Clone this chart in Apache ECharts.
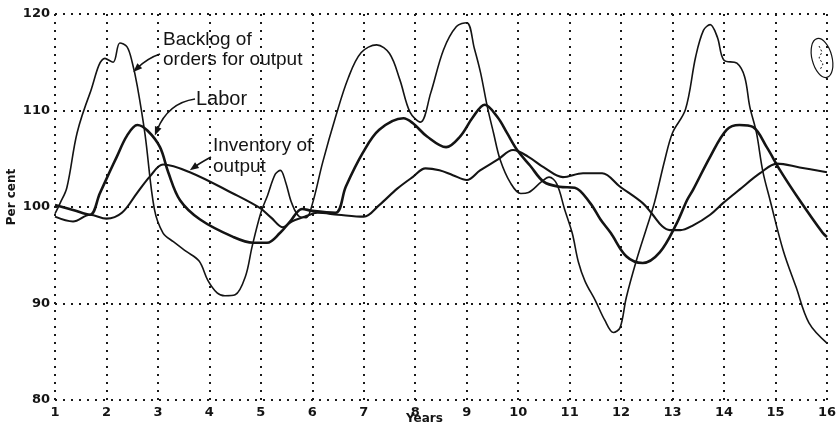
<!DOCTYPE html>
<html>
<head>
<meta charset="utf-8">
<script src="https://cdn.jsdelivr.net/npm/echarts@6/dist/echarts.min.js"></script>
<style>
html,body{margin:0;padding:0;background:#fff;}
#c{width:839px;height:434px;}
</style>
</head>
<body>
<div id="c"></div>
<script>
// Tick labels
var xTicks = [1,2,3,4,5,6,7,8,9,10,11,12,13,14,15,16];
var yTicks = [80,90,100,110,120];

// Backlog of orders for output  [year, per cent]
var backlog = [
  [1,99.3],[1.1,100.4],[1.23,102],[1.43,107.7],[1.68,111.8],[1.97,115.4],[2.13,115],[2.26,117],
  [2.4,116.6],[2.5,115],[2.6,112.5],[2.75,107.5],[2.93,99.8],[3.1,97.3],[3.3,96.4],[3.55,95.4],
  [3.8,94.4],[3.97,92.4],[4.15,91.1],[4.3,90.8],[4.5,90.9],[4.7,92.8],[4.83,95.9],[5.0,99.4],
  [5.13,101.2],[5.28,103.4],[5.38,103.8],[5.48,102.6],[5.6,100.4],[5.75,99.0],[5.88,98.9],
  [6.0,100.3],[6.2,104.6],[6.45,109.3],[6.7,113.4],[6.95,116],[7.25,116.8],[7.5,115.9],
  [7.7,113.2],[7.9,109.8],[8.1,108.8],[8.3,111.8],[8.55,116.3],[8.8,118.7],[9.0,119.1],
  [9.15,116.4],[9.27,113.9],[9.4,110.4],[9.52,107.7],[9.65,104.9],[9.85,102.5],[10.05,101.4],
  [10.2,101.5],[10.45,102.6],[10.6,103.1],[10.75,102.4],[10.9,99.8],[11.05,97.3],[11.17,94.3],
  [11.3,92.3],[11.5,90.3],[11.68,88.3],[11.85,87.0],[11.98,87.5],[12.1,90.6],[12.3,94.5],
  [12.5,97.9],[12.65,100.5],[12.85,104.9],[13.0,107.7],[13.25,110.1],[13.45,115.6],[13.6,118.3],
  [13.73,118.9],[13.87,117.6],[14.0,115.2],[14.25,114.9],[14.4,113.5],[14.5,110.4],[14.63,107.7],
  [14.75,103.8],[14.9,100.6],[15.15,95.5],[15.4,91.7],[15.65,88],[16,85.9]
];

// Labor
var labor = [
  [1,100.2],[1.35,99.7],[1.68,99.2],[1.87,101.4],[2.05,103.5],[2.2,105.2],[2.4,107.4],[2.6,108.5],
  [2.8,107.9],[3.04,106.2],[3.2,103.6],[3.43,100.7],[3.82,98.7],[4.46,96.9],[4.85,96.3],[5.12,96.3],
  [5.37,97.3],[5.57,98.5],[5.8,99.8],[6.0,99.6],[6.45,99.4],[6.65,102.1],[6.98,105.6],[7.3,108],
  [7.77,109.2],[7.95,108.7],[8.23,107.3],[8.6,106.2],[8.87,107.3],[9.12,109.3],[9.35,110.6],
  [9.6,109.3],[9.78,107.7],[9.98,105.9],[10.23,104.3],[10.5,102.6],[10.8,102.1],[11.1,102],
  [11.4,100.4],[11.6,98.7],[11.8,97.3],[12.1,94.9],[12.42,94.2],[12.75,95.3],[13.08,98.3],
  [13.28,100.7],[13.4,101.8],[13.73,105.2],[14.05,108],[14.3,108.5],[14.56,108.3],[14.83,106.2],
  [15.09,103.8],[15.47,100.7],[15.92,97.3],[16,96.9]
];

// Inventory of output
var inventory = [
  [1,99.0],[1.35,98.5],[1.68,99.2],[2.0,98.8],[2.3,99.4],[2.6,101.5],[2.85,103.2],[3.1,104.4],
  [3.62,103.6],[4.46,101.4],[4.98,99.9],[5.2,98.9],[5.43,97.9],[5.6,98.5],[5.85,99.0],[6.1,99.4],
  [6.5,99.2],[7.0,99.0],[7.3,100.2],[7.65,101.9],[7.95,103.1],[8.2,104.0],[8.47,103.8],[8.73,103.3],
  [9.0,102.8],[9.26,103.8],[9.6,104.9],[9.9,105.9],[10.2,105.2],[10.5,104.1],[10.87,103.1],
  [11.26,103.5],[11.63,103.5],[11.98,102.1],[12.42,100.4],[12.6,99.3],[12.8,98.0],[12.95,97.6],
  [13.15,97.6],[13.4,98.1],[13.73,99.2],[13.98,100.4],[14.3,101.8],[14.7,103.5],[15.03,104.5],
  [15.47,104.1],[16,103.6]
];

var chart = echarts.init(document.getElementById('c'), null, {renderer:'canvas'});
var ink = '#141414';
var gridDots = {type:[2,6], color:'#1a1a1a', width:2};
var labelFont = {color: ink, fontFamily: 'DejaVu Sans', fontWeight: 'bold', fontSize: 13};

function lineSeries(name, data, w){
  return {
    name: name, type: 'line', data: data, smooth: 0.35, symbol: 'none',
    lineStyle: {color: ink, width: w}, z: 3, animation: false
  };
}

chart.setOption({
  animation: false,
  backgroundColor: '#ffffff',
  grid: {left: 55, right: 12, top: 14, bottom: 34},
  xAxis: {
    type: 'value', min: 1, max: 16, interval: 1,
    axisLine: {show: false}, axisTick: {show: false},
    axisLabel: Object.assign({margin: 6, formatter: function(v){ return xTicks.indexOf(v) >= 0 ? String(v) : ''; }}, labelFont),
    splitLine: {show: true, lineStyle: gridDots}
  },
  yAxis: {
    type: 'value', min: 80, max: 120, interval: 10,
    axisLine: {show: false}, axisTick: {show: false},
    axisLabel: Object.assign({margin: 5, formatter: function(v){ return yTicks.indexOf(v) >= 0 ? String(v) : ''; }}, labelFont),
    splitLine: {show: true, lineStyle: gridDots}
  },
  series: [
    lineSeries('Backlog of orders for output', backlog, 1.6),
    lineSeries('Labor', labor, 2.6),
    lineSeries('Inventory of output', inventory, 2.1)
  ]
});

function px(p){ return chart.convertToPixel({gridIndex: 0}, p); }
function arrow(from, ctrl, tipData){
  var tip = px(tipData);
  var dx = tip[0] - ctrl[0], dy = tip[1] - ctrl[1];
  var L = Math.sqrt(dx*dx + dy*dy); dx /= L; dy /= L;
  var hl = 9, hw = 3.5;
  var bx = tip[0] - dx*hl, by = tip[1] - dy*hl;
  return [
    {type:'bezierCurve', shape:{x1:from[0], y1:from[1], x2:tip[0]-dx*6, y2:tip[1]-dy*6, cpx1:ctrl[0], cpy1:ctrl[1]},
     style:{stroke: ink, lineWidth: 1.6, fill: null}, z: 10},
    {type:'polygon', shape:{points:[[tip[0],tip[1]],[bx - dy*hw, by + dx*hw],[bx + dy*hw, by - dx*hw]]},
     style:{fill: ink}, z: 10}
  ];
}
var annFont = '19px "Liberation Sans", Arial, sans-serif';
var g = [];
g.push({type:'text', left: 163, top: 30, style:{text:'Backlog of\norders for output', font: annFont, fill: ink, lineHeight: 20}, z: 10});
g.push({type:'text', left: 196, top: 89, style:{text:'Labor', font: '20px "Liberation Sans", Arial, sans-serif', fill: ink}, z: 10});
g.push({type:'text', left: 213, top: 135, style:{text:'Inventory of\noutput', font: annFont, fill: ink, lineHeight: 21}, z: 10});
g = g.concat(arrow([160, 54], [148, 58], [2.52, 114.0]));
g = g.concat(arrow([195, 99], [168, 103], [2.94, 107.4]));
g = g.concat(arrow([211, 157], [200, 163], [3.62, 103.8]));
// axis titles
g.push({type:'text', left: 406, top: 413, style:{text:'Years', font:'bold 12px "DejaVu Sans", sans-serif', fill: ink}, z: 10});
g.push({type:'text', x: 12, y: 197, rotation: Math.PI/2, style:{text:'Per cent', font:'bold 12px "DejaVu Sans", sans-serif', fill: ink, align:'center', verticalAlign:'middle'}, z: 10});
// hand-drawn mark at top right
g.push({type:'ellipse', x: 822, y: 58, rotation: 0.25, shape:{cx: 0, cy: 0, rx: 10, ry: 20}, style:{stroke: ink, lineWidth: 1.2, fill: null}, z: 10});
g.push({type:'polyline', shape:{points:[[819,46],[822,52],[819,58],[823,64],[820,70]]}, style:{stroke: ink, lineWidth: 1, fill: null, lineDash:[2,2]}, z: 10});
chart.setOption({graphic: g});
</script>
</body>
</html>
